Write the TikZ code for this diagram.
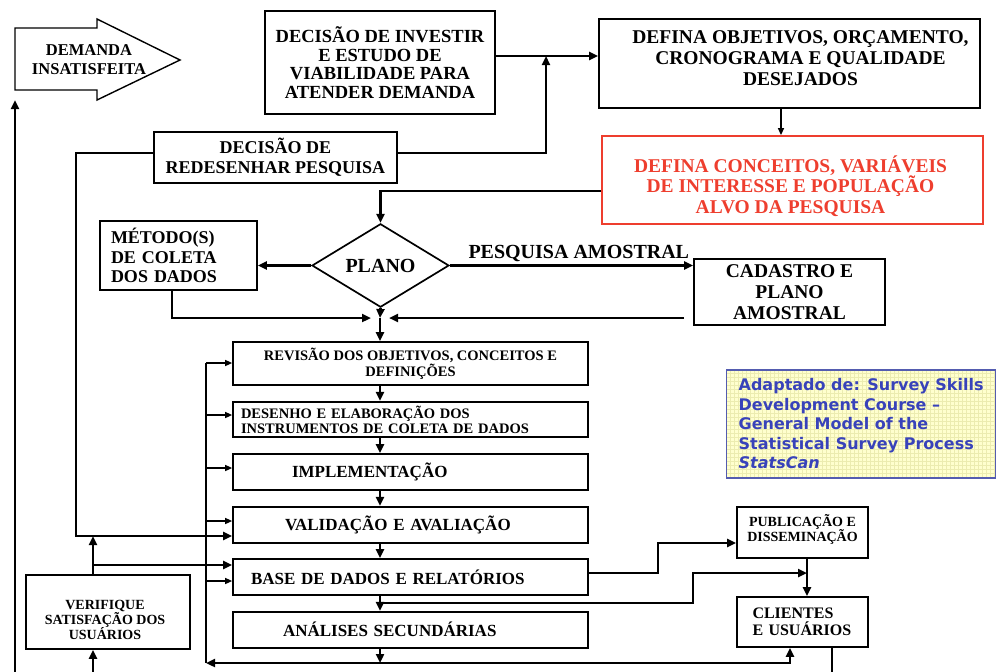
\documentclass[tikz,border=0pt]{standalone}
\usepackage{fontspec}
\setmainfont{Liberation Serif}
\newfontfamily\notefont{DejaVu Sans}
\usepackage{tikz}
\usetikzlibrary{arrows.meta, shapes.geometric, positioning, calc}
\usepackage{xcolor}
\definecolor{alertred}{RGB}{238,62,46}
\definecolor{noteblue}{RGB}{56,66,186}
\definecolor{noteframe}{RGB}{84,92,176}
\definecolor{notefill}{RGB}{255,255,206}
\definecolor{notegrid}{RGB}{236,236,176}
\newcommand{\boxfont}[2]{\bfseries\fontsize{#1}{#2}\selectfont}

\tikzset{
  stage/.style={draw, line width=1.7pt, inner sep=0pt, align=center},
  caption/.style={inner sep=0pt, align=center},
  flow/.style={line width=2.8pt, -{Triangle[length=9pt,width=8pt]}},
  feedback/.style={line width=1.4pt, -{Triangle[length=7pt,width=6pt]}},
  rail/.style={line width=1.4pt},
  trunk/.style={line width=2.8pt}
}

\begin{document}
\begin{tikzpicture}[x=1pt, y=-1pt]
      \useasboundingbox (0,0) rectangle (997,672);

      % entrada
      \draw[line width=1.4pt] (15,28) -- (97,28) -- (97,19) -- (180,60)
            -- (97,100) -- (97,90) -- (15,90) -- cycle;
      \node[caption, font=\boxfont{16.5}{18.5}]
            (demanda) at (89,59.5) {DEMANDA\\INSATISFEITA};
      \coordinate (demfoot) at (15,100);

      \node[stage, minimum width=230pt, minimum height=103pt,
            font=\boxfont{18.5}{18.8}] (invest) at (380,62.5)
            {DECISÃO DE INVESTIR\\E ESTUDO DE\\VIABILIDADE PARA\\ATENDER DEMANDA};
      \node[stage, minimum width=381pt, minimum height=89pt] (objetivos) at (789.5,63.5) {};
      \node[caption, font=\boxfont{19.5}{21}] (objetivos-txt)
            at ([xshift=11pt, yshift=5pt]objetivos.center)
            {DEFINA OBJETIVOS, ORÇAMENTO,\\CRONOGRAMA E QUALIDADE\\DESEJADOS};
      \node[stage, draw=alertred, line width=1.8pt,
            minimum width=381pt, minimum height=88pt] (conceitos) at (792.5,180) {};
      \node[caption, text=alertred, font=\boxfont{19.5}{20.3}] (conceitos-txt)
            at ([xshift=-2pt, yshift=-6pt]conceitos.center)
            {DEFINA CONCEITOS, VARIÁVEIS\\DE INTERESSE E POPULAÇÃO\\ALVO DA PESQUISA};
      \node[stage, minimum width=243pt, minimum height=51pt,
            font=\boxfont{18}{20}] (redesenho) at (275.5,157.5)
            {DECISÃO DE\\REDESENHAR PESQUISA};

      % planejamento
      \node[draw, diamond, line width=1.7pt, inner sep=0pt,
            minimum width=137pt, minimum height=73pt,
            font=\boxfont{20}{20}] (plano) at (380.5,265.5) {PLANO};
      \node[stage, align=left, text width=135pt, inner xsep=11pt,
            minimum height=69pt, font=\boxfont{18}{19.2}] (metodo) at (178.5,255.5)
            {MÉTODO(S)\\DE COLETA\\DOS DADOS};
      \node[stage, minimum width=191pt, minimum height=66pt,
            font=\boxfont{19.5}{21}] (cadastro) at (789.5,292)
            {CADASTRO E\\PLANO\\AMOSTRAL};

      % etapas
      \node[stage, minimum width=355pt, minimum height=43pt,
            font=\boxfont{14.5}{14}] (revisao) at (410.5,363.5)
            {REVISÃO DOS OBJETIVOS, CONCEITOS E\\DEFINIÇÕES};
      \node[stage, align=left, text width=339pt, inner xsep=8pt,
            minimum height=35.5pt, font=\boxfont{14.5}{15}] (desenho) at (410.5,419.5)
            {DESENHO E ELABORAÇÃO DOS\\INSTRUMENTOS DE COLETA DE DADOS};
      \node[stage, align=left, text width=237pt, inner xsep=59pt,
            minimum height=36pt, font=\boxfont{17}{17}] (impl) at (410.5,472)
            {IMPLEMENTAÇÃO};
      \node[stage, align=left, text width=251pt, inner xsep=52pt,
            minimum height=36pt, font=\boxfont{17}{17}] (valid) at (410.5,524.7)
            {VALIDAÇÃO E AVALIAÇÃO};
      \node[stage, align=left, text width=319pt, inner xsep=18pt,
            minimum height=36pt, font=\boxfont{17}{17}] (base) at (410.5,577)
            {BASE DE DADOS E RELATÓRIOS};
      \node[stage, align=left, text width=255pt, inner xsep=50pt,
            minimum height=36pt, font=\boxfont{17}{17}] (analises) at (410.5,629.7)
            {ANÁLISES SECUNDÁRIAS};

      \node[stage, minimum width=164pt, minimum height=74pt] (verif) at (108,612) {};
      \node[caption, font=\boxfont{14}{15}] (verif-txt)
            at ([xshift=-3pt, yshift=-8pt]verif.center)
            {VERIFIQUE\\SATISFAÇÃO DOS\\USUÁRIOS};
      \node[stage, minimum width=131pt, minimum height=51pt] (pub) at (802.5,532.5) {};
      \node[caption, font=\boxfont{14}{15}] (pub-txt)
            at ([yshift=3pt]pub.center) {PUBLICAÇÃO E\\DISSEMINAÇÃO};
      \node[stage, align=left, text width=100pt, inner xsep=15.5pt,
            minimum height=50pt, font=\boxfont{16}{17}] (clientes) at (802.5,622)
            {CLIENTES\\E USUÁRIOS};

      % fonte
      \node[draw=noteframe, line width=1.3pt, fill=notefill, anchor=west,
            minimum height=108pt, inner xsep=12pt, align=left, text=noteblue,
            font=\notefont\bfseries\fontsize{16}{19.5}\selectfont,
            path picture={\draw[notegrid, line width=0.4pt, step=4pt]
              (path picture bounding box.south west) grid
              (path picture bounding box.north east);}]
            (fonte) at (726,424)
            {Adaptado de: Survey Skills\\Development Course –\\General Model of the\\
             Statistical Survey Process\\\textit{StatsCan}};

      \coordinate (jtop) at (546,56);
      \coordinate (jplan) at (380,318);
      \coordinate (jbase) at (380,603);
      \coordinate (jcli) at (807,573);
      \coordinate (jbot) at (380,663);
      \coordinate (feed) at (206,663);

      % conexoes superiores
      \draw[flow] (invest.east |- jtop) -- (objetivos.west |- jtop);
      \draw[flow] (redesenho.east |- 0,153) -| (jtop);
      \draw[flow] (redesenho.west |- 0,153) -- (76,153) |- (valid.west |- 0,536);
      \draw[feedback] (objetivos.south -| 781,0) -- (conceitos.north -| 781,0);
      \draw[flow] (conceitos.west |- 0,191) -| (plano.north);
      \draw[flow] (plano.west) -- (metodo.east |- plano.west);
      \draw[flow] (plano.east) -- node[above=2pt, pos=0.53, inner sep=0pt,
            font=\boxfont{20}{20}] (amostral) {PESQUISA AMOSTRAL}
            (cadastro.west |- plano.east);
      \draw[flow] (metodo.south -| 172,0) |- ([xshift=-9pt]jplan);
      \draw[flow] ([xshift=-9pt]cadastro.west |- jplan) -- ([xshift=9pt]jplan);
      \draw[flow] (plano.south) -- (jplan);
      \draw[flow] (jplan) -- (revisao.north -| jplan);

      % coluna central
      \foreach \a/\b in {revisao/desenho, desenho/impl, impl/valid,
                         valid/base, base/analises}
        \draw[flow] (\a.south -| jplan) -- (\b.north -| jplan);

      \draw[rail] (206,363) -- (feed);
      \foreach \n/\y in {revisao/363, desenho/415, impl/468, valid/521, base/581}
        \draw[feedback] (206,\y) -- (\n.west |- 0,\y);

      % saidas
      \draw[flow] (base.east |- 0,573) -- (658,573) |- (pub.west |- 0,543);
      \draw[flow] (jbase) -- (693,603) |- (jcli);
      \draw[flow] (pub.south -| jcli) -- (clientes.north -| jcli);
      \draw[flow] (analises.south -| jbot) -- (jbot);
      \draw[flow] (jbot) -- (feed);
      \draw[flow] (jbot) -| (clientes.south -| 790,0);
      \draw[trunk] (clientes.south -| 832,0) -- (832,675);

      % retorno
      \draw[flow] (93,675) -- (verif.south -| 93,0);
      \draw[flow] (verif.north -| 93,0) -- (93,536);
      \draw[flow] (93,565) -- (base.west |- 0,565);
      \draw[flow] (15,675) -- (demfoot);
    \end{tikzpicture}
\end{document}
